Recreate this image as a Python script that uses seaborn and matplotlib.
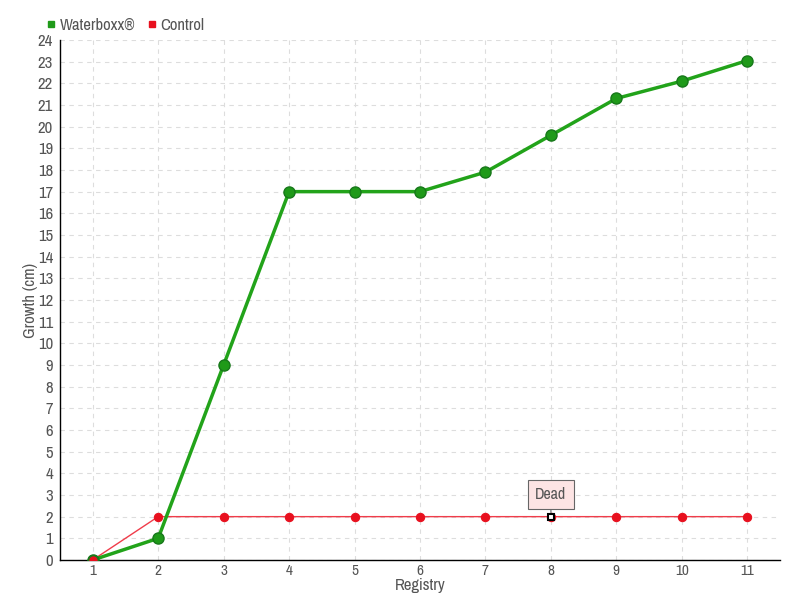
import matplotlib
matplotlib.use("Agg")
import matplotlib.pyplot as plt
import seaborn as sns
import pandas as pd
from matplotlib.lines import Line2D
from matplotlib import font_manager

registry = [1, 2, 3, 4, 5, 6, 7, 8, 9, 10, 11]
waterboxx = [0, 1, 9, 17, 17, 17, 17.9, 19.6, 21.3, 22.1, 23.05]
control = [0, 2, 2, 2, 2, 2, 2, 2, 2, 2, 2]
dead_registry = 8

sns.set_style("white")
names = sorted({f.name for f in font_manager.fontManager.ttflist})
cond = [n for n in names if 'Condensed' in n or 'Narrow' in n]
plt.rcParams['font.family'] = cond[:1] + ['DejaVu Sans']
plt.rcParams['font.stretch'] = 'condensed'
plt.rcParams['font.weight'] = 'light'
text_color = '#555555'

df = pd.DataFrame({'Registry': registry, 'Waterboxx®': waterboxx, 'Control': control})

fig = plt.figure(figsize=(8, 6), dpi=100)
ax = fig.add_axes([0.075, 0.0667, 0.9, 0.8667])

sns.lineplot(data=df, x='Registry', y='Control', ax=ax, color='#f03c4a', linewidth=1,
             marker='o', markersize=6, markerfacecolor='#e8101e', markeredgecolor='#e8101e', zorder=3)
sns.lineplot(data=df, x='Registry', y='Waterboxx®', ax=ax, color='#22a31a', linewidth=2.5,
             marker='o', markersize=8, markerfacecolor='#1f9a19', markeredgecolor='#17781a',
             markeredgewidth=1, zorder=4)
# first control point drawn on top
ax.plot(registry[0], control[0], 'o', color='#e8101e', markeredgecolor='#1a7a1a', markersize=7, zorder=5)
# dead marker
i = registry.index(dead_registry)
ax.plot(dead_registry, control[i], 's', markerfacecolor='white', markeredgecolor='black',
        markersize=5, markeredgewidth=1.5, zorder=6)
ax.annotate('Dead', xy=(dead_registry, control[i]), xytext=(0, 16), textcoords='offset points',
            ha='center', va='center', fontsize=11.5, color=text_color,
            bbox=dict(boxstyle='square,pad=0.45', fc='#fde4e4', ec='#666666', lw=0.8),
            arrowprops=dict(arrowstyle='-', color='#666666', lw=0.8, shrinkA=0, shrinkB=3))

ax.set_xlim(0.5, 11.5)
ax.set_ylim(0, 24)
ax.set_xticks(registry)
ax.set_yticks(range(0, 25))
ax.grid(True, color='#dddddd', linestyle=(0, (4, 4)), linewidth=0.8)
for s in ['top', 'right']:
    ax.spines[s].set_visible(False)
for s in ['left', 'bottom']:
    ax.spines[s].set_color('black')
    ax.spines[s].set_linewidth(1)
ax.tick_params(axis='y', direction='inout', length=6, labelsize=12, labelcolor=text_color, pad=2)
ax.tick_params(axis='x', direction='inout', length=6, labelsize=11, labelcolor=text_color, pad=0)
ax.set_xlabel('Registry', fontsize=12, color=text_color, labelpad=0)
ax.set_ylabel('Growth (cm)', fontsize=12, color=text_color, labelpad=0)

handles = [Line2D([], [], marker='s', linestyle='none', color='#1f9a19', markersize=5),
           Line2D([], [], marker='s', linestyle='none', color='#e8101e', markersize=5)]
fig.legend(handles, ['Waterboxx®', 'Control'], loc='upper left', bbox_to_anchor=(0.037, 0.995),
           ncol=2, frameon=False, fontsize=12, labelcolor=text_color,
           handletextpad=0.1, columnspacing=0.6, handlelength=0.8)

fig.savefig('out.png', dpi=100)
